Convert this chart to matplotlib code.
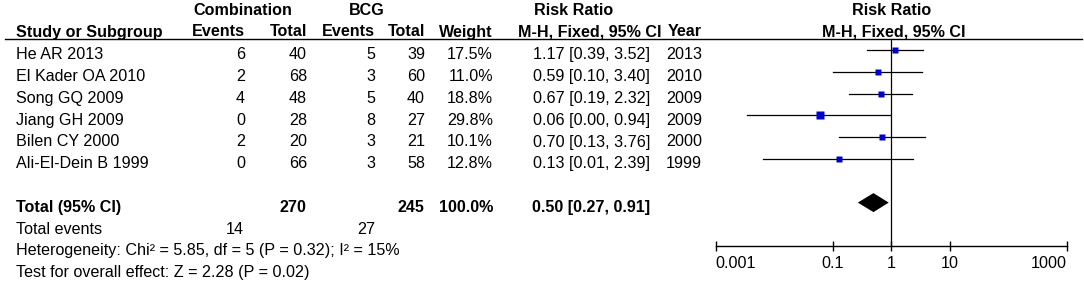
import numpy as np
import matplotlib
matplotlib.use("Agg")
import matplotlib.pyplot as plt

# === Data ===
studies = ["He AR 2013", "El Kader OA 2010", "Song GQ 2009", "Jiang GH 2009",
           "Bilen CY 2000", "Ali-El-Dein B 1999"]
comb_events = [6, 2, 4, 0, 2, 0]
comb_total = [40, 68, 48, 28, 20, 66]
bcg_events = [5, 3, 5, 8, 3, 3]
bcg_total = [39, 60, 40, 27, 21, 58]
weights = [17.5, 11.0, 18.8, 29.8, 10.1, 12.8]
rr = [1.17, 0.59, 0.67, 0.06, 0.70, 0.13]
ci_lo = [0.39, 0.10, 0.19, 0.0035, 0.13, 0.0066]
ci_hi = [3.52, 3.40, 2.32, 0.94, 3.76, 2.39]
years = [2013, 2010, 2009, 2009, 2000, 1999]

pooled_rr = 0.50
pooled_lo = 0.27
pooled_hi = 0.91
total_comb = 270
total_bcg = 245
events_comb = 14
events_bcg = 27
heterogeneity = "Heterogeneity: Chi\u00b2 = 5.85, df = 5 (P = 0.32); I\u00b2 = 15%"
overall = "Test for overall effect: Z = 2.28 (P = 0.02)"

tick_vals = [0.001, 0.1, 1, 10, 1000]
tick_labels = ["0.001", "0.1", "1", "10", "1000"]

# === Layout (pixels) ===
W, H = 1084, 285
row0 = 59.3          # baseline of first study row
step = 21.8
FONT = "Liberation Sans"
FS = 11.6

plt.rcParams["font.family"] = [FONT, "DejaVu Sans"]

fig = plt.figure(figsize=(W / 100, H / 100), dpi=100)
bg = fig.add_axes([0, 0, 1, 1])
bg.set_xlim(0, W)
bg.set_ylim(H, 0)
bg.axis("off")


def txt(x, y, s, ha="left", bold=False):
    bg.text(x, y, s, ha=ha, va="baseline", fontsize=FS,
            fontweight="bold" if bold else "normal")


# headers
txt(242.5, 15, "Combination", "center", True)
txt(367, 15, "BCG", "center", True)
txt(574, 15, "Risk Ratio", "center", True)
txt(892, 15, "Risk Ratio", "center", True)
txt(16, 36.5, "Study or Subgroup", bold=True)
txt(245, 36.5, "Events", "right", True)
txt(307, 36.5, "Total", "right", True)
txt(375, 36.5, "Events", "right", True)
txt(425, 36.5, "Total", "right", True)
txt(493, 36.5, "Weight", "right", True)
txt(589.5, 36.5, "M-H, Fixed, 95% CI", "center", True)
txt(702, 36.5, "Year", "right", True)
txt(894, 36.5, "M-H, Fixed, 95% CI", "center", True)
bg.plot([5, 1082], [38.8, 38.8], color="black", lw=1.0)

# study rows
for i, name in enumerate(studies):
    y = row0 + step * i
    txt(16, y, name)
    txt(245, y, str(comb_events[i]), "right")
    txt(307, y, str(comb_total[i]), "right")
    txt(375, y, str(bcg_events[i]), "right")
    txt(425, y, str(bcg_total[i]), "right")
    txt(493, y, f"{weights[i]:.1f}%", "right")
    txt(650, y, f"{rr[i]:.2f} [{ci_lo[i]:.2f}, {ci_hi[i]:.2f}]", "right")
    txt(702, y, str(years[i]), "right")

# totals
y = row0 + step * 7
txt(16, y, "Total (95% CI)", bold=True)
txt(306, y, str(total_comb), "right", True)
txt(424, y, str(total_bcg), "right", True)
txt(493, y, f"{sum(weights):.1f}%", "right", True)
txt(650, y, f"{pooled_rr:.2f} [{pooled_lo:.2f}, {pooled_hi:.2f}]", "right", True)
y = row0 + step * 8
txt(16, y, "Total events")
txt(244, y, str(events_comb), "right")
txt(375, y, str(events_bcg), "right")
txt(16, row0 + step * 9, heterogeneity)
txt(16, row0 + step * 10, overall)

# === Forest plot ===
x0, x1 = 715.5, 1066.7
ytop, ybot = 38.8, 245.5
mark0 = 50.0
ax = fig.add_axes([x0 / W, (H - ybot) / H, (x1 - x0) / W, (ybot - ytop) / H])
ax.set_xscale("log")
ax.set_xlim(0.001, 1000)
ax.set_ylim((ybot - mark0) / step, (ytop - mark0) / step)
ax.patch.set_alpha(0)
for s in ["top", "left", "right"]:
    ax.spines[s].set_visible(False)
ax.spines["bottom"].set_linewidth(1.0)
ax.yaxis.set_visible(False)
ax.minorticks_off()
ax.set_xticks(tick_vals)
ax.set_xticklabels(tick_labels, fontsize=FS)
ax.tick_params(axis="x", direction="inout", length=6.5, width=1.0, pad=4)
labs = ax.get_xticklabels()
labs[0].set_ha("left")
labs[-1].set_ha("right")

ax.axvline(1, color="black", lw=0.9)

for i in range(len(studies)):
    ax.plot([ci_lo[i], ci_hi[i]], [i, i], color="black", lw=0.9)
    ax.plot(rr[i], i, marker="s", color="#0000CC", mec="none",
            markersize=1.15 * np.sqrt(weights[i]))

h = 9.5 / step
ax.fill([pooled_lo, pooled_rr, pooled_hi, pooled_rr], [7, 7 - h, 7, 7 + h],
        color="black", lw=0)

fig.savefig("out.png", dpi=100)
